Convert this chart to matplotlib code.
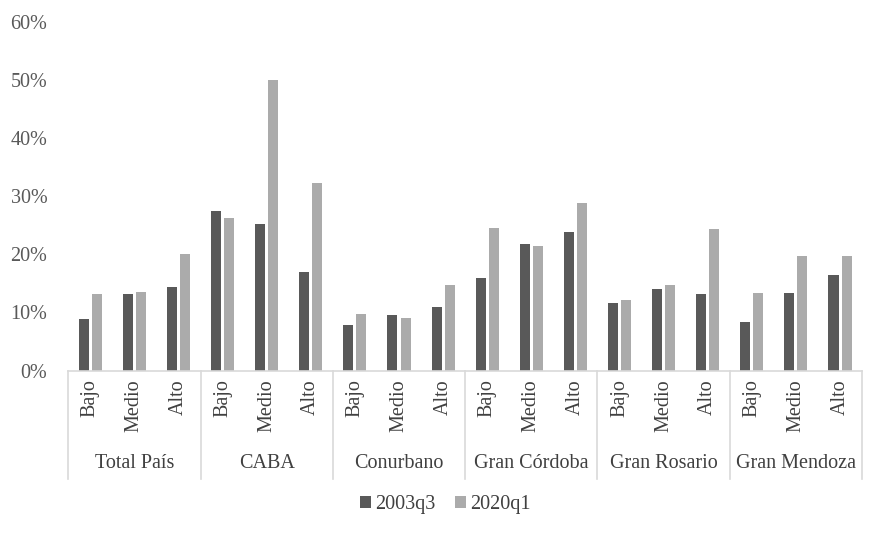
import matplotlib.pyplot as plt
import numpy as np
from matplotlib.ticker import PercentFormatter

plt.rcParams['font.family'] = ['Liberation Serif', 'DejaVu Serif']

regions = ["Total País", "CABA", "Conurbano", "Gran Córdoba", "Gran Rosario", "Gran Mendoza"]
levels = ["Bajo", "Medio", "Alto"]
s2003q3 = [8.8, 13.1, 14.3,  27.4, 25.3, 16.9,  7.8, 9.5, 10.9,
           15.9, 21.7, 23.8,  11.6, 14.0, 13.1,  8.4, 13.3, 16.4]
s2020q1 = [13.1, 13.6, 20.0,  26.2, 50.0, 32.2,  9.8, 9.1, 14.8,
           24.5, 21.4, 28.8,  12.1, 14.8, 24.3,  13.4, 19.8, 19.8]

fig = plt.figure(figsize=(8.86, 5.34), dpi=100)
ax = fig.add_axes([0.077, 0.306, 0.896, 0.653])

x = np.arange(len(s2003q3))
w = 0.227
ax.bar(x - 0.148, s2003q3, w, color="#595959", label="2003q3")
ax.bar(x + 0.148, s2020q1, w, color="#ababab", label="2020q1")

ax.set_xlim(-0.5, len(x) - 0.5)
ax.set_ylim(0, 60)
ax.set_yticks(range(0, 61, 10))
ax.yaxis.set_major_formatter(PercentFormatter(decimals=0))
ax.tick_params(axis="y", length=0, pad=15, labelsize=14.5, labelcolor="#595959")

ax.set_xticks(x)
ax.set_xticklabels(levels * len(regions), rotation=90, va="top", ha="center")
ax.tick_params(axis="x", length=0, pad=6, labelsize=14.5, labelcolor="#404040")

for s in ["top", "right", "left"]:
    ax.spines[s].set_visible(False)
ax.spines["bottom"].set_color("#d9d9d9")
ax.spines["bottom"].set_linewidth(1.2)

trans = ax.get_xaxis_transform()
for i in range(len(regions) + 1):
    xb = i * 3 - 0.5
    ax.plot([xb, xb], [0, -0.31], transform=trans, color="#d9d9d9", lw=1.2, clip_on=False)
for i, r in enumerate(regions):
    ax.text(i * 3 + 1, -0.265, r, transform=trans, ha="center", va="center",
            fontsize=14.5, color="#404040")

ax.legend(loc="center", bbox_to_anchor=(0.475, -0.385), ncol=2, frameon=False,
          fontsize=14.5, handlelength=0.55, handleheight=0.55, handletextpad=0.2,
          columnspacing=1.0, labelcolor="#404040")

fig.savefig("out.png", dpi=100)
